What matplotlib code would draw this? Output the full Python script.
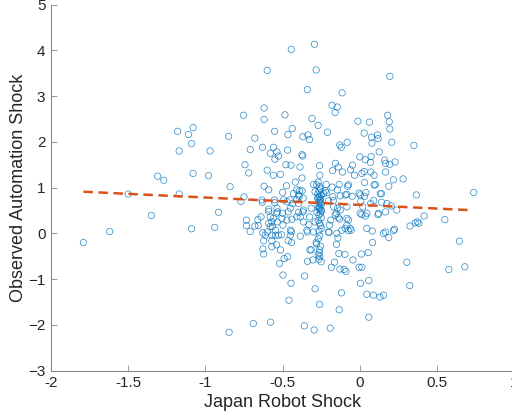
import matplotlib
matplotlib.use("Agg")
import matplotlib.pyplot as plt
import numpy as np

plt.rcParams['font.family'] = ['Liberation Sans', 'DejaVu Sans']

# scatter points (x = Japan robot shock, y = observed automation shock)
pts = [
    # left, sparse
    (-1.79, -0.20), (-1.62, 0.04), (-1.50, 0.86), (-1.35, 0.39), (-1.31, 1.25), (-1.27, 1.16),
    (-1.18, 2.23), (-1.17, 1.80), (-1.17, 0.86), (-1.11, 2.16), (-1.09, 1.96), (-1.08, 2.31),
    (-1.08, 1.31), (-1.09, 0.10), (-0.98, 1.26), (-0.97, 1.80), (-0.94, 0.13), (-0.915, 0.46),
    (-0.85, 2.12), (-0.84, 1.02), (-0.847, -2.16), (-0.753, 2.58), (-0.744, 1.50), (-0.72, 1.32),
    (-0.75, 0.80), (-0.77, 0.70), (-0.71, 1.83), (-0.68, 2.08), (-0.735, 0.29), (-0.735, 0.17),
    (-0.71, 0.04), (-0.68, 0.16), (-0.69, -1.97),
    # upper part
    (-0.444, 4.02), (-0.294, 4.13), (-0.60, 3.56), (-0.283, 3.57), (0.194, 3.43), (-0.34, 3.14),
    (-0.115, 3.07), (-0.62, 2.74), (-0.62, 2.49), (-0.18, 2.80), (-0.147, 2.76), (-0.16, 2.64),
    (-0.485, 2.59), (0.18, 2.58), (0.19, 2.44), (0.194, 2.28), (-0.31, 2.51), (-0.27, 2.36),
    (-0.013, 2.45), (0.062, 2.43), (-0.438, 2.29), (-0.466, 2.16), (-0.552, 2.23), (-0.369, 2.11),
    (-0.336, 2.15), (-0.326, 2.05), (-0.21, 2.21), (0.028, 2.19), (0.075, 2.10), (0.114, 2.15),
    (0.118, 2.07), (0.078, 1.97), (0.207, 1.99), (0.35, 1.92), (-0.63, 1.88), (-0.56, 1.88),
    (-0.58, 1.75), (-0.537, 1.78), (-0.527, 1.69), (-0.55, 1.62), (-0.468, 1.82), (-0.375, 1.72),
    (-0.37, 1.69), (-0.13, 1.93), (-0.12, 1.88), (-0.082, 1.99), (0.125, 1.78), (0.0, 1.67),
    (0.034, 1.61), (0.073, 1.68), (0.069, 1.55), (0.16, 1.60), (0.166, 1.53), (0.194, 1.51),
    (0.228, 1.56), (-0.479, 1.50), (-0.446, 1.49), (-0.388, 1.45), (-0.261, 1.48), (-0.259, 1.27),
    (-0.158, 1.53), (-0.14, 1.45), (-0.048, 1.49), (-0.06, 1.39), (-0.177, 1.37), (-0.113, 1.34),
    (-0.035, 1.27), (0.013, 1.31), (0.028, 1.35), (0.071, 1.34), (0.092, 1.27), (0.166, 1.34),
    (0.28, 1.19), (0.217, 1.17), (-0.60, 1.38), (-0.515, 1.29), (-0.375, 1.21), (-0.418, 1.12),
    (-0.475, 1.04), (-0.62, 1.03), (-0.50, 0.895), (-0.28, 1.06), (-0.218, 1.07), (-0.18, 1.01),
    (-0.134, 1.07), (-0.08, 1.03), (0.03, 1.11), (0.092, 1.06), (0.10, 1.06), (0.187, 1.03),
    (0.132, 0.865), (0.14, 0.87), (0.366, 0.84), (0.737, 0.895), (-0.39, 0.93), (-0.375, 0.93),
    (-0.393, 0.81), (-0.367, 0.77), (-0.453, 0.73), (-0.553, 0.73), (-0.632, 0.68), (-0.435, 0.65),
    (-0.272, 0.86), (-0.274, 0.76), (-0.257, 0.68), (-0.216, 0.89), (-0.203, 0.71), (-0.171, 0.72),
    (-0.127, 0.82), (-0.084, 0.85), (-0.05, 0.81), (-0.005, 0.88), (0.039, 0.89), (0.03, 0.81),
    (0.006, 0.70), (0.09, 0.72), (0.203, 0.60), (0.14, 0.68), (-0.537, 0.55), (-0.59, 0.53),
    (-0.315, 0.55), (-0.265, 0.55), (-0.145, 0.55),
    # middle band
    (-0.30, 1.07), (-0.29, 0.91), (-0.26, 0.80), (-0.257, 0.73), (-0.257, 0.65), (-0.26, 0.58),
    (-0.252, 0.51), (-0.235, 0.87), (-0.224, 0.93), (-0.175, 0.80), (-0.074, 1.06), (0.002, 0.84),
    (-0.095, 0.84), (-0.145, 0.95), (0.07, 0.65), (0.019, 0.58), (0.002, 0.44), (0.045, 0.44),
    (0.12, 0.44), (0.166, 0.47), (-0.084, 0.58), (-0.127, 0.51), (-0.17, 0.58), (-0.16, 0.40),
    (-0.132, 0.31), (-0.084, 0.33), (-0.063, 0.11), (-0.095, 0.11), (-0.074, 0.06), (-0.117, 0.07),
    (-0.149, 0.00), (-0.203, 0.03), (-0.188, 0.29), (-0.29, 0.25), (-0.30, 0.03), (-0.343, 0.07),
    (-0.365, 0.25), (-0.365, 0.51), (0.045, 0.11), (0.153, 0.00), (0.166, 0.03), (0.224, 0.09),
    (0.325, 0.16), (0.358, 0.23), (0.373, 0.25), (0.239, 0.51), (0.175, 0.65),
    # lower part
    (-0.658, 0.17), (-0.628, 0.01), (-0.623, -0.16), (-0.628, -0.34), (-0.623, -0.45), (-0.59, 0.22),
    (-0.566, 0.15), (-0.546, -0.04), (-0.57, -0.16), (-0.54, -0.25), (-0.507, -0.03), (-0.514, -0.36),
    (-0.52, -0.66), (-0.49, -0.55), (-0.468, -0.51), (-0.498, -0.91), (-0.446, -1.09), (-0.459, -1.46),
    (-0.578, -1.94), (-0.36, -2.02), (-0.296, -2.11), (-0.192, -2.07), (-0.464, -0.16), (-0.442, -0.20),
    (-0.444, 0.04), (-0.386, -0.06), (-0.33, 0.19), (-0.34, 0.03), (-0.323, -0.36), (-0.315, -0.36),
    (-0.339, -0.61), (-0.304, -0.58), (-0.283, -0.20), (-0.28, -0.23), (-0.261, -0.36), (-0.263, -0.42),
    (-0.265, -0.57), (-0.358, -0.93), (-0.29, -1.21), (-0.261, -1.55), (-0.2, 0.02), (-0.184, -0.74),
    (-0.164, -0.63), (-0.151, -0.24), (-0.142, -0.10), (-0.136, -0.44), (-0.097, -0.46), (-0.129, -0.78),
    (-0.102, -0.79), (-0.09, -0.83), (-0.119, -1.30), (-0.134, -1.67), (-0.045, -0.58), (-0.005, -0.74),
    (0.013, -0.74), (0.01, -0.45), (0.054, -0.42), (0.082, -0.20), (0.08, 0.05), (0.004, -1.09),
    (0.058, -1.03), (0.045, -1.33), (0.088, -1.35), (0.13, -1.39), (0.153, -1.35), (0.058, -1.83),
    (0.187, -0.09), (0.217, 0.06), (0.304, -0.63), (0.323, -1.14), (0.382, 0.22), (0.416, 0.38),
    (0.55, 0.30), (0.645, -0.17), (0.576, -0.79), (0.68, -0.73), (0.118, 0.41), (0.013, 0.41),
    (0.036, 0.38), (-0.59, 0.48), (-0.54, 0.44), (-0.50, 0.44), (-0.464, 0.47), (-0.397, 0.46),
    (-0.369, 0.47), (-0.326, 0.36), (-0.278, 0.46), (-0.248, 0.49), (-0.153, 0.44), (-0.14, 0.35),
    (-0.074, 0.29), (-0.084, 0.18), (-0.056, 0.07), (-0.197, 0.18), (-0.261, 0.22), (-0.25, 0.11),
    (-0.386, 0.36), (-0.44, 0.31), (-0.498, 0.18), (-0.64, 0.36), (-0.66, 0.30),
    (-0.56, 1.27), (-0.59, 0.95), (-0.634, 0.73), (-0.552, 0.67), (-0.533, 0.47), (-0.494, 0.73),
    (-0.472, 0.69), (-0.43, 0.87), (-0.408, 0.74), (-0.397, 0.65), (-0.45, 0.55), (-0.58, 0.36),
    (-0.56, 0.33), (-0.57, 0.25), (-0.536, 0.25), (-0.505, 0.33), (-0.472, 0.29), (-0.58, 0.15),
    (-0.546, 0.07), (-0.57, -0.04), (-0.527, -0.04), (-0.45, 0.07), (-0.45, -0.04), (-0.613, -0.04),
    (-0.60, 0.03), (-0.408, 0.36), (-0.397, 0.84), (-0.408, 0.95), (-0.26, -0.51), (-0.57, -0.29),
    # dense column around -0.26
    (-0.27, 1.12), (-0.26, 1.02), (-0.255, 0.97), (-0.265, 0.93), (-0.25, 0.84), (-0.27, 0.79),
    (-0.255, 0.75), (-0.265, 0.70), (-0.25, 0.62), (-0.27, 0.60), (-0.26, 0.53), (-0.255, 0.44),
    (-0.265, 0.40), (-0.25, 0.34), (-0.27, 0.28), (-0.255, 0.17), (-0.265, 0.05), (-0.26, -0.05),
    (-0.27, -0.12), (-0.255, -0.28), (-0.27, -0.47), (-0.25, -0.62),
]
robot_shock = [p[0] for p in pts]
automation_shock = [p[1] for p in pts]

# least-squares line as drawn in the reference
fit_x = [-1.79, 0.70]
fit_y = [0.91, 0.51]

fig = plt.figure(figsize=(5.12, 4.2), dpi=100)
ax = fig.add_axes([51 / 512, 49.3 / 420, 463.3 / 512, 366.2 / 420])

ax.scatter(robot_shock, automation_shock, s=21, facecolors='none',
           edgecolors='#0072BD', linewidths=0.5, alpha=0.85)
ax.plot(fit_x, fit_y, color='#D95319', lw=1.8, dashes=(3.8, 2.2))

ax.set_xlim(-2, 1)
ax.set_ylim(-3, 5)
ax.set_xticks([-2, -1.5, -1, -0.5, 0, 0.5, 1])
ax.set_xticklabels(['-2', '-1.5', '-1', '-0.5', '0', '0.5', '1'])
ax.set_yticks(np.arange(-3, 6))
ax.set_xlabel('Japan Robot Shock', fontsize=13, color='#262626', labelpad=3)
ax.set_ylabel('Observed Automation Shock', fontsize=13, color='#262626', labelpad=1)

for side in ['top', 'right']:
    ax.spines[side].set_visible(False)
for side in ['left', 'bottom']:
    ax.spines[side].set_color('#888888')
    ax.spines[side].set_linewidth(0.8)
ax.tick_params(direction='in', length=4, width=0.6, color='#888888',
               labelsize=11, labelcolor='#262626', pad=4)

fig.savefig('out.png', dpi=100)
